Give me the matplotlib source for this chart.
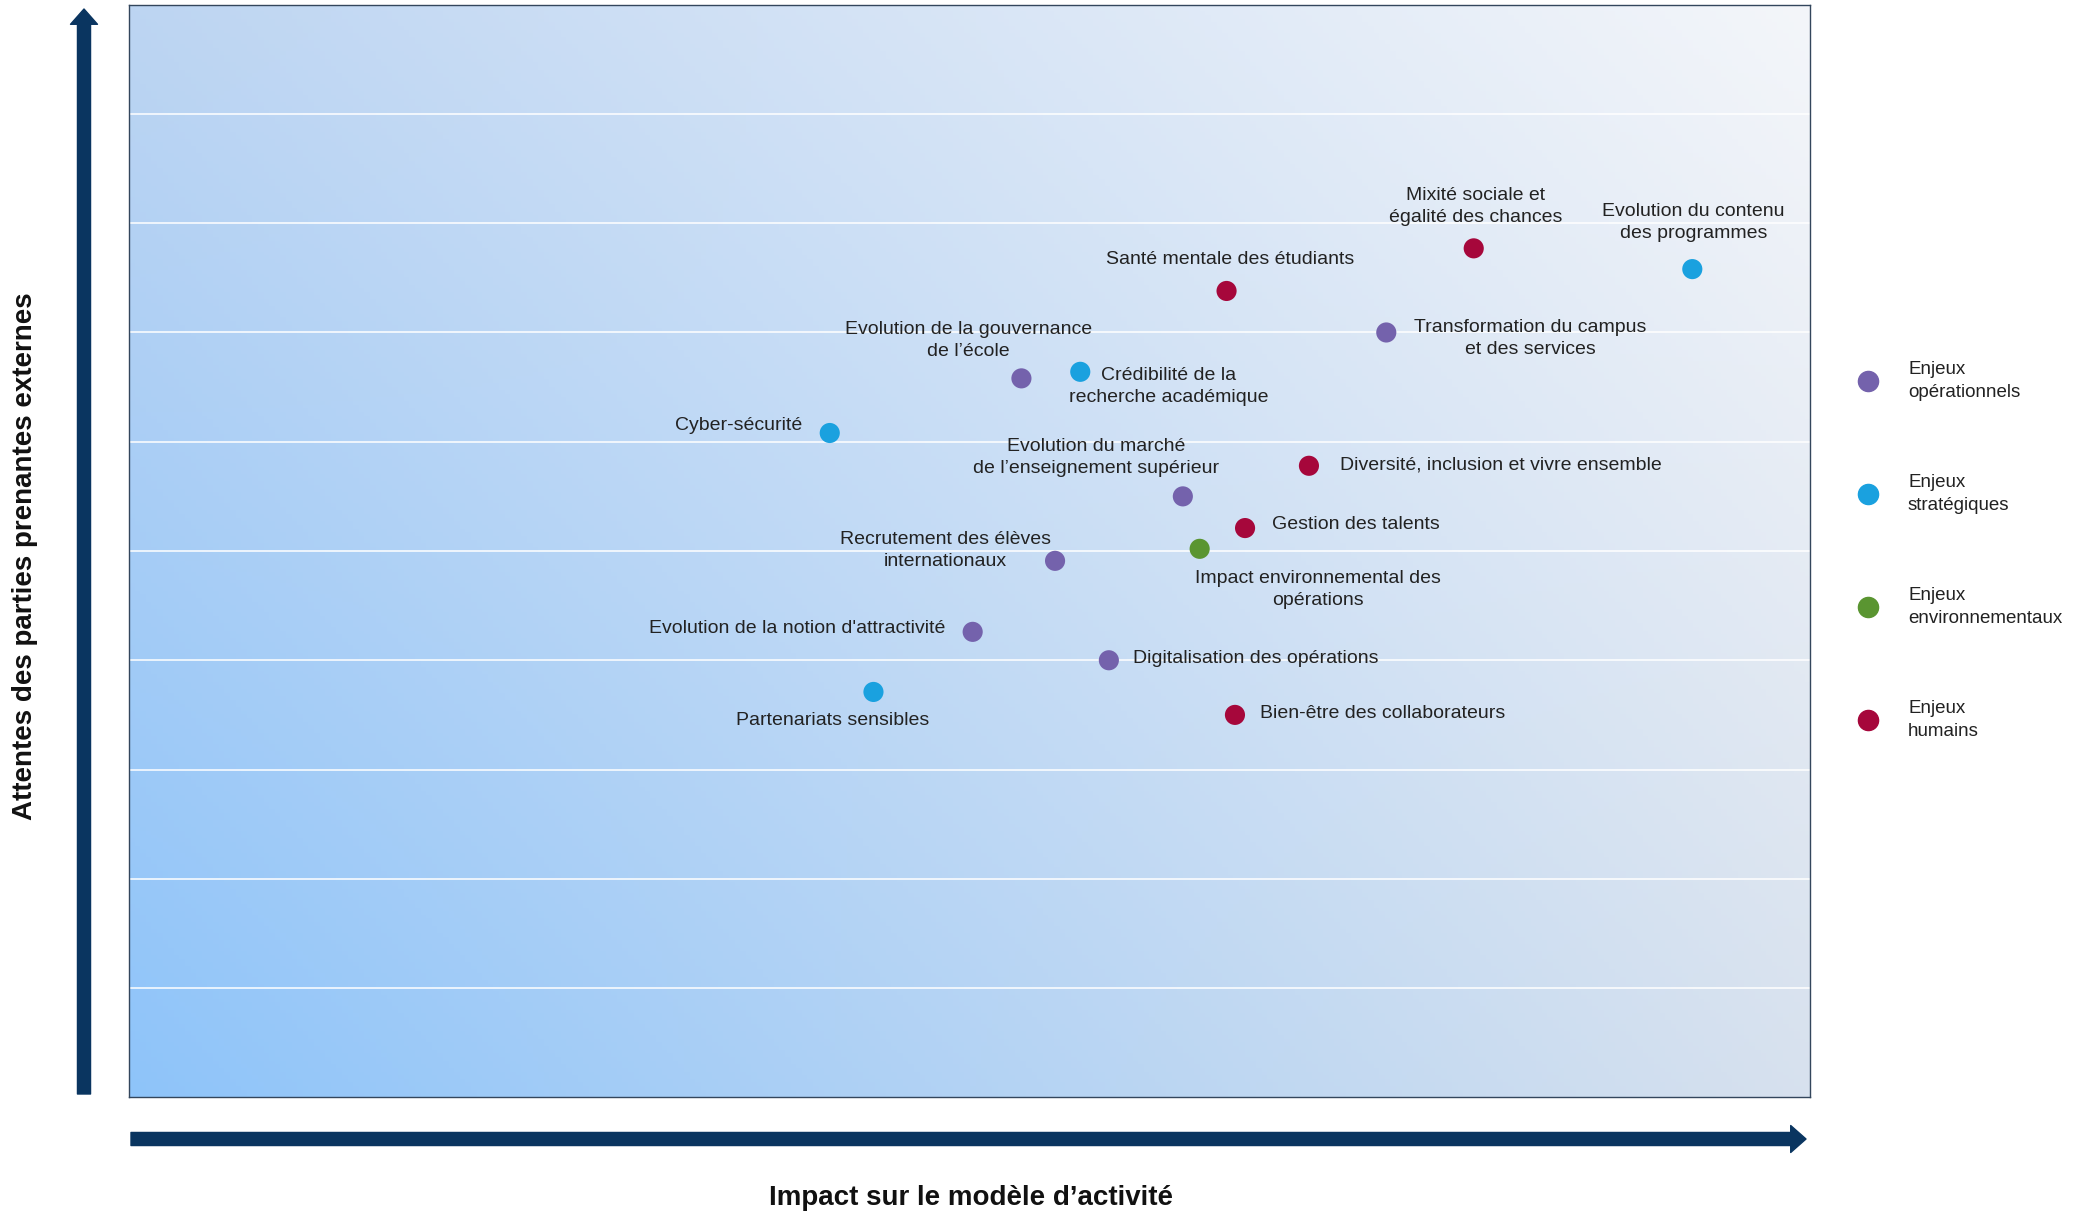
import numpy as np
import matplotlib
matplotlib.use('Agg')
import matplotlib.pyplot as plt
from matplotlib.colors import to_rgb
from matplotlib.patches import FancyArrowPatch
from matplotlib.lines import Line2D

plt.rcParams['font.family'] = ['Liberation Sans', 'DejaVu Sans']

# Enjeux de la matrice de matérialité
enjeux = ['Mixité sociale et\négalité des chances',
          'Evolution du contenu\ndes programmes',
          'Santé mentale des étudiants',
          'Transformation du campus\net des services',
          'Evolution de la gouvernance\nde l’école',
          'Crédibilité de la\nrecherche académique',
          'Cyber-sécurité',
          'Diversité, inclusion et vivre ensemble',
          'Evolution du marché\nde l’enseignement supérieur',
          'Gestion des talents',
          'Impact environnemental des\nopérations',
          'Recrutement des élèves\ninternationaux',
          "Evolution de la notion d'attractivité",
          'Digitalisation des opérations',
          'Partenariats sensibles',
          'Bien-être des collaborateurs']
impact = [8.00, 9.30, 6.53, 7.48, 5.31, 5.66, 4.17, 7.02, 6.27, 6.64, 6.37, 5.51, 5.02, 5.83, 4.43, 6.58]
attentes = [7.77, 7.58, 7.38, 7.00, 6.58, 6.64, 6.08, 5.78, 5.50, 5.21, 5.02, 4.91, 4.26, 4.00, 3.71, 3.50]
categorie = ['hum', 'strat', 'hum', 'op', 'op', 'strat', 'strat', 'hum',
             'op', 'hum', 'env', 'op', 'op', 'op', 'strat', 'hum']

categories = ['op', 'strat', 'env', 'hum']
noms_categories = ['Enjeux\nopérationnels', 'Enjeux\nstratégiques',
                   'Enjeux\nenvironnementaux', 'Enjeux\nhumains']
couleurs = {'op': '#7462AC', 'strat': '#1AA1DF', 'env': '#5A9531', 'hum': '#A6073B'}

# placement des étiquettes (décalage en pixels par rapport au point, alignement)
decalages = [(2, 42, 'center'), (1, 47, 'center'), (4, 31, 'center'), (144, -6, 'center'),
             (-53, 38, 'center'), (88, -15, 'center'), (-27, 7, 'right'), (31, 1, 'left'),
             (-87, 39, 'center'), (27, 4, 'left'), (118, -41, 'center'), (-110, 10, 'center'),
             (-27, 3, 'right'), (24, 2, 'left'), (-41, -29, 'center'), (25, 1, 'left')]

W, H = 2094, 1212
fig = plt.figure(figsize=(W / 100, H / 100), dpi=100)
ax = fig.add_axes([128.6 / W, 1 - 1097.3 / H, (1810 - 128.6) / W, (1097.3 - 4.7) / H])

# fond en dégradé (interpolation entre les quatre coins)
bas_g, bas_d = np.array(to_rgb('#8EC4FA')), np.array(to_rgb('#D7E1EE'))
haut_g, haut_d = np.array(to_rgb('#BDD5F2')), np.array(to_rgb('#F4F6FA'))
u, v = np.meshgrid(np.linspace(0, 1, 300), np.linspace(0, 1, 300))
u, v = u[..., None], v[..., None]
fond = ((1 - u) * (1 - v) * bas_g + u * (1 - v) * bas_d
        + (1 - u) * v * haut_g + u * v * haut_d)
ax.imshow(fond, extent=[0, 10, 0, 10], origin='lower', aspect='auto', zorder=0)

ax.set_xlim(0, 10)
ax.set_ylim(0, 10)
ax.set_yticks(range(1, 10))
ax.set_xticks([])
ax.grid(axis='y', color='white', lw=1.3, alpha=0.85)
ax.tick_params(length=0, labelleft=False, labelbottom=False)
for s in ax.spines.values():
    s.set_color('#33465C')
    s.set_linewidth(1.0)

for nom, x, y, cat, (dx, dy, ha) in zip(enjeux, impact, attentes, categorie, decalages):
    ax.scatter(x, y, s=210, color=couleurs[cat], edgecolors='none', zorder=3)
    ax.annotate(nom, (x, y), xytext=(dx, dy), textcoords='offset pixels',
                ha=ha, va='center', multialignment='center', fontsize=14,
                linespacing=1.4, color='#222222')

# légende
for i, (cat, nom) in enumerate(zip(categories, noms_categories)):
    yl = 1 - (381 + i * 113) / H
    fig.add_artist(Line2D([1868 / W], [yl], transform=fig.transFigure, marker='o',
                          ms=14.5, color=couleurs[cat], lw=0))
    fig.text(1908 / W, yl, nom, ha='left', va='center', fontsize=13.5,
             linespacing=1.45, color='#222222')

# flèches des axes
navy = '#0A3560'
style = 'simple,head_length=0.55,head_width=0.97,tail_width=0.47'
fig.add_artist(FancyArrowPatch((84 / W, 1 - 1094 / H), (84 / W, 1 - 9 / H),
                               transform=fig.transFigure, arrowstyle=style,
                               mutation_scale=20, color=navy, shrinkA=0, shrinkB=0))
fig.add_artist(FancyArrowPatch((131 / W, 1 - 1139 / H), (1806 / W, 1 - 1139 / H),
                               transform=fig.transFigure, arrowstyle=style,
                               mutation_scale=20, color=navy, shrinkA=0, shrinkB=0))

fig.text(25 / W, 1 - 556 / H, 'Attentes des parties prenantes externes', rotation=90,
         ha='center', va='center', fontsize=20, fontweight='bold', color='#111111')
fig.text(971 / W, 1 - 1198 / H, 'Impact sur le modèle d’activité',
         ha='center', va='center', fontsize=20, fontweight='bold', color='#111111')

fig.savefig('out.png', dpi=100)
